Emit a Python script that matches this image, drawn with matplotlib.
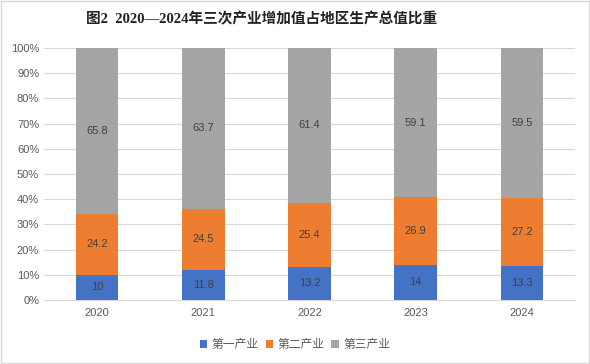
import numpy as np
import matplotlib.pyplot as plt
from matplotlib.patches import Rectangle

plt.rcParams['font.family'] = ['Liberation Sans', 'Noto Sans CJK SC']

years = ['2020', '2021', '2022', '2023', '2024']
primary = [10, 11.8, 13.2, 14, 13.3]
secondary = [24.2, 24.5, 25.4, 26.9, 27.2]
tertiary = [65.8, 63.7, 61.4, 59.1, 59.5]
names = ['第一产业', '第二产业', '第三产业']
colors = ['#4472C4', '#ED7D31', '#A5A5A5']

fig = plt.figure(figsize=(5.9, 3.64), dpi=100)
ax = fig.add_axes([0.0746, 0.1758, 0.9, 0.6922])

x = np.arange(len(years))
bottom = np.zeros(len(years))
for vals, name, c in zip([primary, secondary, tertiary], names, colors):
    vals = np.array(vals)
    ax.bar(x, vals, 0.4, bottom=bottom, color=c, label=name, zorder=3)
    for xi, b, v in zip(x, bottom, vals):
        ax.text(xi, b + v / 2, f'{v:g}', ha='center', va='center',
                fontsize=8, color='#404040', zorder=4)
    bottom += vals

ax.set_xlim(-0.5, len(years) - 0.5)
ax.set_ylim(0, 100)
ax.set_yticks(range(0, 101, 10))
ax.set_yticklabels([f'{t}%' for t in range(0, 101, 10)])
ax.set_xticks(x)
ax.set_xticklabels(years)
ax.tick_params(axis='both', length=0, labelsize=8, colors='#595959')
ax.tick_params(axis='x', pad=6)
ax.grid(axis='y', color='#D9D9D9', linewidth=0.8, zorder=0)
for s in ['top', 'right', 'left']:
    ax.spines[s].set_visible(False)
ax.spines['bottom'].set_color('#D9D9D9')

fig.text(0.444, 0.948, '图2  2020—2024年三次产业增加值占地区生产总值比重',
         ha='center', va='center', fontsize=10.5, fontweight='bold', color='#222222',
         family=['Liberation Serif', 'Noto Sans CJK SC'])

ax.legend(loc='center', bbox_to_anchor=(0.5, 0.052), bbox_transform=fig.transFigure,
          ncol=3, frameon=False, fontsize=8.5, labelcolor='#595959',
          handlelength=0.6, handleheight=0.6, handletextpad=0.4, columnspacing=0.6)

fig.patches.append(Rectangle((0.002, 0.003), 0.996, 0.994, transform=fig.transFigure,
                             fill=False, edgecolor='#D9D9D9', linewidth=1))

fig.savefig('out.png', dpi=100)
